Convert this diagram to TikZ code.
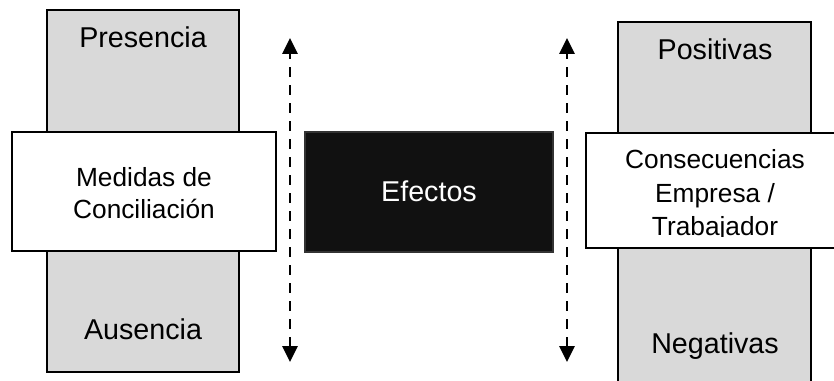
\documentclass[tikz,border=0pt]{standalone}
\usepackage{fontspec}
\setmainfont{Liberation Sans}
\usetikzlibrary{arrows.meta}
\definecolor{boxgray}{HTML}{D9D9D9}
\definecolor{boxblack}{HTML}{111111}
\begin{document}
\begin{tikzpicture}[x=0.75pt,y=-0.75pt,
  graybox/.style={draw=black,fill=boxgray,line width=1.2pt,inner sep=0pt},
  whitebox/.style={draw=black,fill=white,line width=1.2pt,inner sep=0pt},
  blackbox/.style={draw=black!80,fill=boxblack,line width=0.8pt,inner sep=0pt},
  biglabel/.style={font=\fontsize{21.5pt}{24pt}\selectfont,anchor=base,inner sep=0pt},
  midlabel/.style={font=\fontsize{19.7pt}{24pt}\selectfont,anchor=base,inner sep=0pt},
  dasharrow/.style={line width=1.6pt,dash pattern=on 7pt off 6.5pt,
    {Triangle[length=12pt,width=11.5pt]}-{Triangle[length=12pt,width=11.5pt]}}]
\clip (0,0) rectangle (834,381);
% gray boxes
\node[graybox,minimum width=144pt,minimum height=271.5pt] (leftgray) at (143,191) {};
\node[graybox,minimum width=144.75pt,minimum height=279.75pt] (rightgray) at (714.5,208.5) {};
% white boxes
\node[whitebox,minimum width=198pt,minimum height=89.25pt] (leftwhite) at (144,191.5) {};
\node[whitebox,minimum width=213pt,minimum height=86.25pt] (rightwhite) at (728,190.5) {};
% black box
\node[blackbox,minimum width=186pt,minimum height=90pt] (efbox) at (429,192) {};
% labels
\node[biglabel] (pres) at (143,48) {Presencia};
\node[biglabel] (aus) at (143,339) {Ausencia};
\node[biglabel] (pos) at (715,60) {Positivas};
\node[biglabel] (neg) at (715,353) {Negativas};
\node[biglabel,text=white] (ef) at (429,201.7) {Efectos};
\node[midlabel] (med1) at (144,186.5) {Medidas de};
\node[midlabel] (med2) at (144,218.3) {Conciliación};
\node[midlabel] (con1) at (715,168.3) {Consecuencias};
\node[midlabel] (con2) at (715,202) {Empresa /};
\begin{scope}
  \clip (590,205) rectangle (834,236.5);
  \node[midlabel] (con3) at (715,235) {Trabajador};
\end{scope}
% arrows
\coordinate (la1) at (290,362);
\coordinate (la2) at (290,38);
\coordinate (ra1) at (567,362);
\coordinate (ra2) at (567,38);
\draw[dasharrow] (la1) -- (la2);
\draw[dasharrow] (ra1) -- (ra2);
\end{tikzpicture}
\end{document}
